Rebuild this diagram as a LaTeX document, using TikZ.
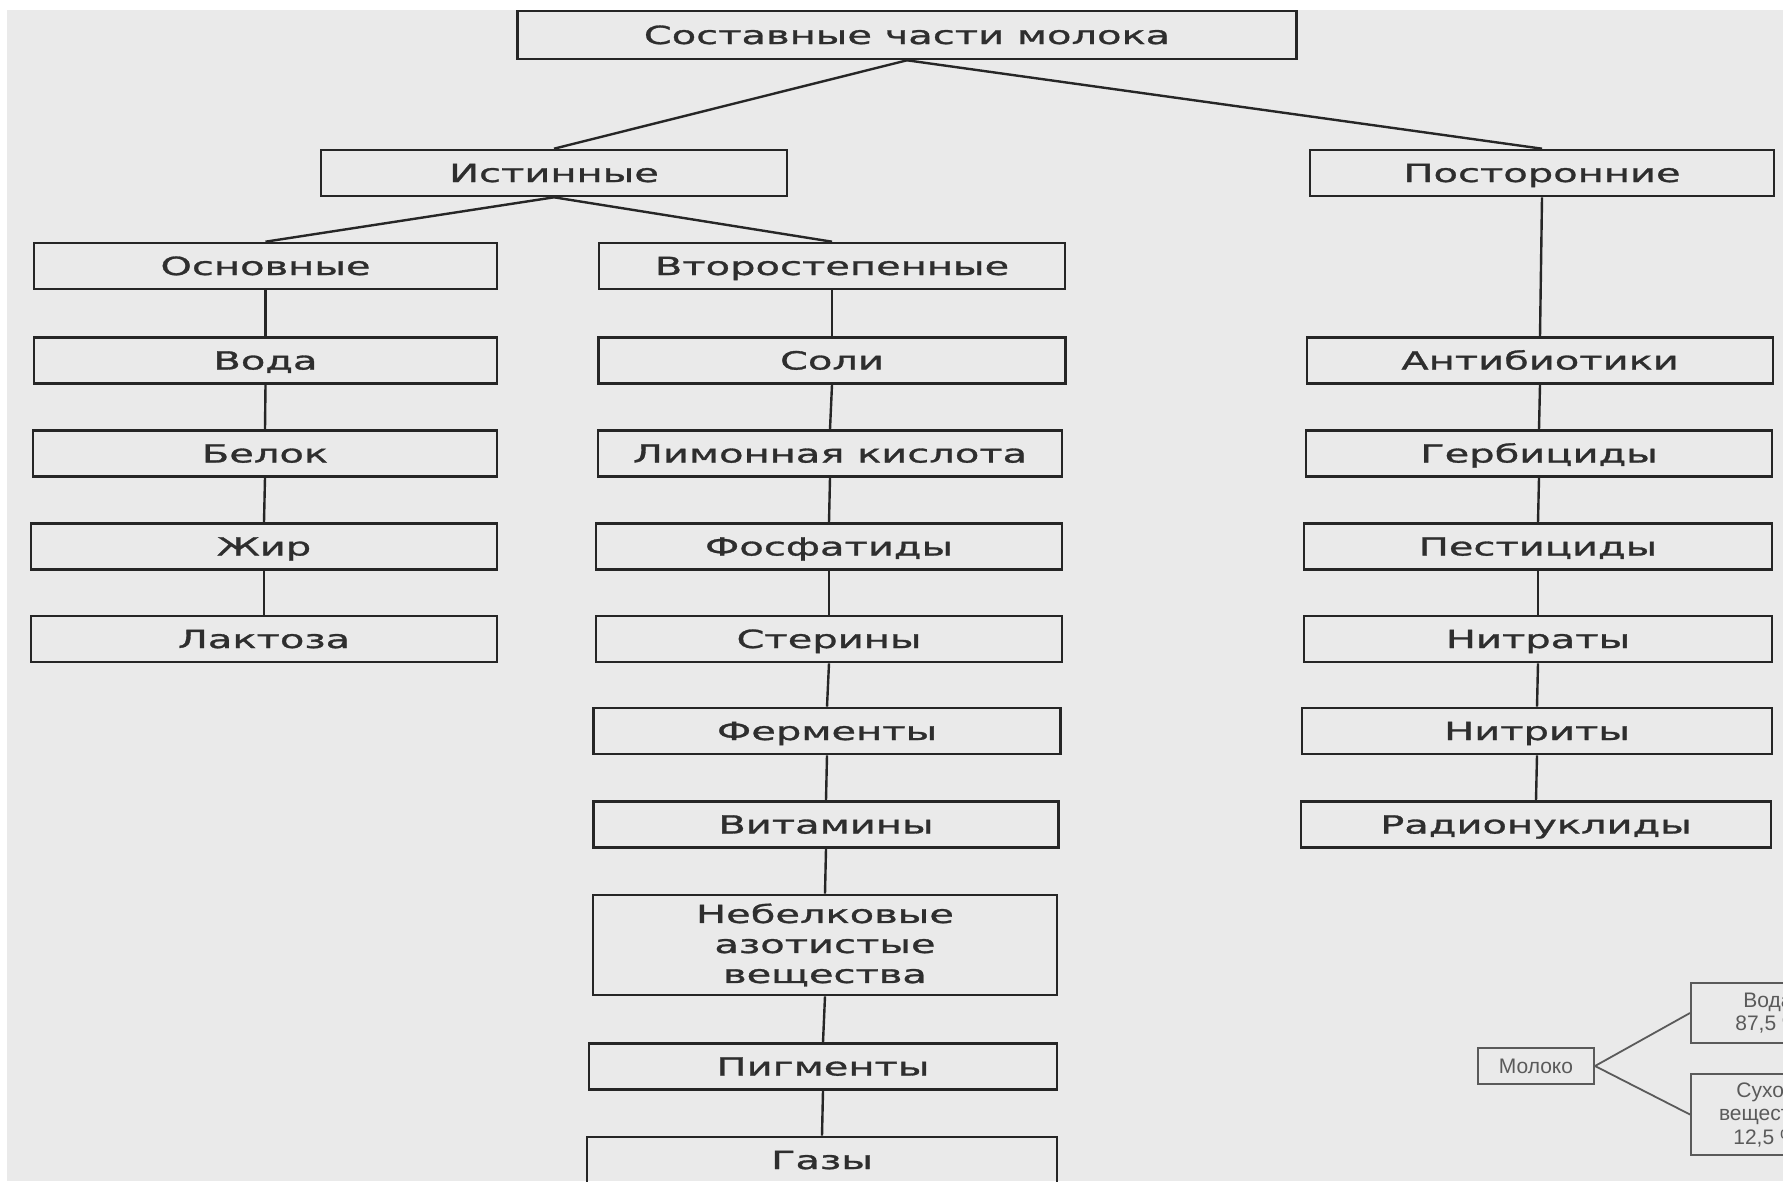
\documentclass[tikz,border=0pt]{standalone}
\usepackage{fontspec}
\newfontfamily\mainf{DejaVu Sans}[FakeStretch=1.6, FakeBold=1.2]
\newfontfamily\smallf{Liberation Sans}
\definecolor{bg}{HTML}{EAEAEA}
\definecolor{ink}{HTML}{262626}
\definecolor{txt}{HTML}{2E2E2E}
\definecolor{sink}{HTML}{5A5A5A}
\begin{document}
\begin{tikzpicture}[x=1pt,y=-1pt,
  bxbase/.style={draw=ink, line width=2.6pt, rectangle, inner sep=0pt,
    minimum height=46pt, text=txt, font=\mainf\fontsize{25pt}{30pt}\selectfont},
  bx/.style={bxbase, text height=18pt, text depth=0pt},
  ln/.style={draw=ink, line width=2.4pt},
  sbx/.style={draw=sink, line width=2pt, rectangle, inner sep=0pt, text=sink,
    font=\smallf\fontsize{21pt}{23.5pt}\selectfont, align=center},
  sln/.style={draw=sink, line width=1.8pt}]
\useasboundingbox (0,0) rectangle (1783,1181);
\clip (0,0) rectangle (1783,1181);
\fill[white] (0,0) rectangle (1783,1181);
\fill[bg] (7,10) rectangle (1783,1181);

% top levels
\node[bx, minimum width=779pt, minimum height=48pt] (top) at (907,35) {Составные части молока};
\node[bx, minimum width=466pt] (ist) at (554,173) {Истинные};
\node[bx, minimum width=464pt] (post) at (1542,173) {Посторонние};
\node[bx, minimum width=463pt] (osn) at (265.5,266) {Основные};
\node[bx, minimum width=466pt] (vtor) at (832,266) {Второстепенные};

% left column
\node[bx, minimum width=463pt] (voda) at (265.5,360.5) {Вода};
\node[bx, minimum width=464pt] (belok) at (265,453.5) {Белок};
\node[bx, minimum width=466pt] (zhir) at (264,546.5) {Жир};
\node[bx, minimum width=466pt] (lakt) at (264,639) {Лактоза};

% middle column
\node[bx, minimum width=467pt] (soli) at (832,360.5) {Соли};
\node[bx, minimum width=464pt] (limon) at (830,453.5) {Лимонная кислота};
\node[bx, minimum width=466pt] (fosf) at (829,546.5) {Фосфатиды};
\node[bx, minimum width=466pt] (ster) at (829,639) {Стерины};
\node[bx, minimum width=467pt] (ferm) at (827,731) {Ферменты};
\node[bx, minimum width=465pt] (vit) at (826,824.5) {Витамины};
\node[bxbase, minimum width=464pt, minimum height=100pt, align=center] (nebel) at (825,945) {Небелковые\\азотистые\\вещества};
\node[bx, minimum width=468pt] (pigm) at (823,1066.5) {Пигменты};
\node[bx, minimum width=470pt] (gazy) at (822,1160) {Газы};

% right column
\node[bx, minimum width=466pt] (anti) at (1540,360.5) {Антибиотики};
\node[bx, minimum width=466pt] (gerb) at (1539,453.5) {Гербициды};
\node[bx, minimum width=468pt] (pest) at (1538,546.5) {Пестициды};
\node[bx, minimum width=468pt] (nitra) at (1538,639) {Нитраты};
\node[bx, minimum width=470pt] (nitri) at (1537,731) {Нитриты};
\node[bx, minimum width=470pt] (radio) at (1536,824.5) {Радионуклиды};

% connectors
\draw[ln] (top.south) -- (ist.north);
\draw[ln] (top.south) -- (post.north);
\draw[ln] (ist.south) -- (osn.north);
\draw[ln] (ist.south) -- (vtor.north);
\draw[ln] (osn.south) -- (voda.north);
\draw[ln] (voda.south) -- (belok.north);
\draw[ln] (belok.south) -- (zhir.north);
\draw[ln] (zhir.south) -- (lakt.north);
\draw[ln] (vtor.south) -- (soli.north);
\draw[ln] (soli.south) -- (limon.north);
\draw[ln] (limon.south) -- (fosf.north);
\draw[ln] (fosf.south) -- (ster.north);
\draw[ln] (ster.south) -- (ferm.north);
\draw[ln] (ferm.south) -- (vit.north);
\draw[ln] (vit.south) -- (nebel.north);
\draw[ln] (nebel.south) -- (pigm.north);
\draw[ln] (pigm.south) -- (gazy.north);
\draw[ln] (post.south) -- (anti.north);
\draw[ln] (anti.south) -- (gerb.north);
\draw[ln] (gerb.south) -- (pest.north);
\draw[ln] (pest.south) -- (nitra.north);
\draw[ln] (nitra.south) -- (nitri.north);
\draw[ln] (nitri.south) -- (radio.north);

% small inset diagram (cut off by the right edge, as in the reference)
\node[sbx, minimum width=116pt, minimum height=36pt] (milk) at (1536,1066) {Молоко};
\node[sbx, minimum width=154pt, minimum height=60pt] (mvoda) at (1768,1013) {Вода\\87,5 \%};
\node[sbx, minimum width=150pt, minimum height=81pt] (msuh) at (1766,1114.5) {Сухое\\вещество\\12,5 \%};
\draw[sln] (milk.east) -- (mvoda.west);
\draw[sln] (milk.east) -- (msuh.west);
\end{tikzpicture}
\end{document}
